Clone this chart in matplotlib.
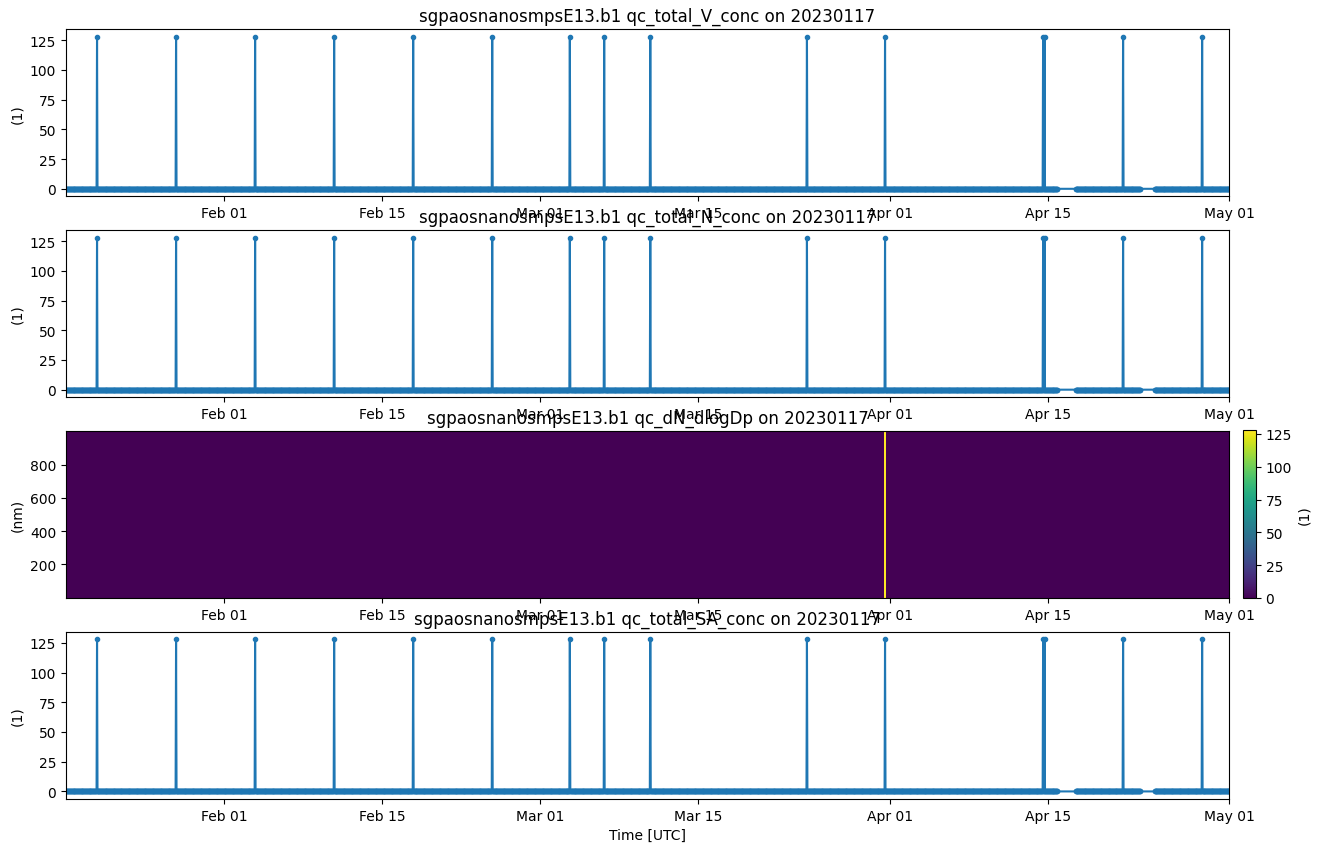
import numpy as np
import matplotlib
matplotlib.use("Agg")
import matplotlib.pyplot as plt
import matplotlib.dates as mdates

# time span of the file and sampling step
start = np.datetime64("2023-01-18T00:00")
end = np.datetime64("2023-05-01T00:00")
step = np.timedelta64(60, "m")

# times where the qc flag jumps to 128
spike_times = ["2023-01-20T18:00", "2023-01-27T18:00", "2023-02-03T18:00",
               "2023-02-10T18:00", "2023-02-17T18:00", "2023-02-24T18:00",
               "2023-03-03T15:00", "2023-03-06T16:00", "2023-03-10T18:00",
               "2023-03-24T15:00", "2023-03-31T13:00", "2023-04-14T13:00",
               "2023-04-14T16:00", "2023-04-21T15:00", "2023-04-28T15:00"]
spike_value = 128

# missing data
gaps = [("2023-04-15T19:00", "2023-04-17T10:00"),
        ("2023-04-23T03:00", "2023-04-24T10:00")]

# flagged samples in the size distribution qc
dist_flag_times = ["2023-03-31T12:00", "2023-03-31T13:00", "2023-03-31T14:00"]
diameters = np.linspace(0, 1000, 126)

titles = ["sgpaosnanosmpsE13.b1 qc_total_V_conc on 20230117",
          "sgpaosnanosmpsE13.b1 qc_total_N_conc on 20230117",
          "sgpaosnanosmpsE13.b1 qc_dN_dlogDp on 20230117",
          "sgpaosnanosmpsE13.b1 qc_total_SA_conc on 20230117"]

# build the series
times = np.arange(start, end + step, step)
keep = np.ones(len(times), dtype=bool)
for g0, g1 in gaps:
    keep &= ~((times > np.datetime64(g0)) & (times < np.datetime64(g1)))
times = times[keep]
qc = np.zeros(len(times))
for t in spike_times:
    qc[np.argmin(np.abs(times - np.datetime64(t)))] = spike_value

qc_dist = np.zeros((len(times), len(diameters)))
for t in dist_flag_times:
    qc_dist[np.argmin(np.abs(times - np.datetime64(t))), :] = spike_value

fig, axes = plt.subplots(4, 1, figsize=(13.25, 8.53), dpi=100)
fig.subplots_adjust(left=0.0498, right=0.9275, bottom=0.0621, top=0.9648, hspace=0.2)

for i, ax in enumerate(axes):
    if i == 2:
        mesh = ax.pcolormesh(times, diameters, qc_dist.T, shading="auto",
                             cmap="viridis", vmin=0, vmax=spike_value)
        ax.set_ylabel("(nm)")
        ax.set_yticks([200, 400, 600, 800])
        cax = fig.add_axes([0.938, 0.2978, 0.0098, 0.197])
        cb = fig.colorbar(mesh, cax=cax)
        cb.set_label("(1)")
    else:
        ax.plot(times, qc, ".-", color="C0")
        ax.set_ylabel("(1)")
        ax.set_yticks([0, 25, 50, 75, 100, 125])
    ax.set_xlim(times[0], times[-1])
    ax.xaxis.set_major_locator(mdates.DayLocator(bymonthday=[1, 15]))
    ax.xaxis.set_major_formatter(mdates.DateFormatter("%b %d"))
    ax.set_title(titles[i])

axes[-1].set_xlabel("Time [UTC]")

fig.savefig("out.png", dpi=100)
